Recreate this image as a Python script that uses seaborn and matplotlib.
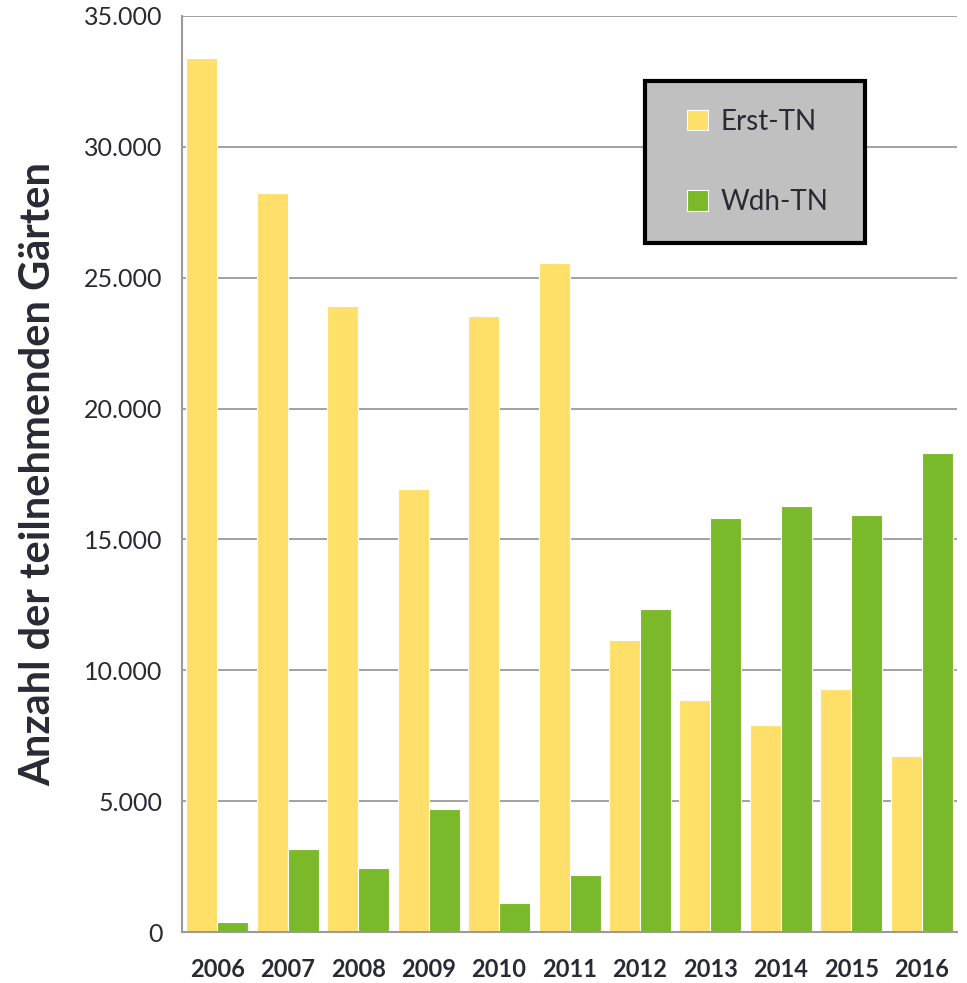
import matplotlib
matplotlib.use("Agg")
import matplotlib.pyplot as plt
import matplotlib.ticker as mticker
from matplotlib.patches import Rectangle
import seaborn as sns
import pandas as pd
import numpy as np

years = ["2006", "2007", "2008", "2009", "2010", "2011",
         "2012", "2013", "2014", "2015", "2016"]
erst_tn = [33400, 28240, 23920, 16930, 23540, 25560,
           11160, 8870, 7910, 9290, 6730]
wdh_tn = [380, 3170, 2450, 4700, 1110, 2180,
          12340, 15820, 16280, 15930, 18300]
series_names = ["Erst-TN", "Wdh-TN"]
colors = ["#FDDF6A", "#7AB929"]
y_label = "Anzahl der teilnehmenden Gärten"

df = pd.DataFrame({
    "Jahr": years * 2,
    "Anzahl": erst_tn + wdh_tn,
    "Serie": [series_names[0]] * len(years) + [series_names[1]] * len(years),
})

sns.set_style("white")
plt.rcParams["font.family"] = ["Lato", "DejaVu Sans"]
text_color = "#2a2a35"

W, H = 967, 983
ax_left, ax_right, ax_top, ax_bottom = 182, 957, 16, 932
fig = plt.figure(figsize=(W / 100, H / 100), dpi=100)
ax = fig.add_axes([ax_left / W, 1 - ax_bottom / H,
                   (ax_right - ax_left) / W, (ax_bottom - ax_top) / H])


def px_to_axes(x, y):
    return ((x - ax_left) / (ax_right - ax_left),
            (ax_bottom - y) / (ax_bottom - ax_top))


sns.barplot(data=df, x="Jahr", y="Anzahl", hue="Serie", palette=colors,
            width=0.88, saturation=1, ax=ax, edgecolor="white", linewidth=0.8,
            legend=True)

ax.set_ylim(0, 35000)
ax.set_xlim(-0.5, len(years) - 0.5)
ax.yaxis.set_major_locator(mticker.MultipleLocator(5000))
ax.yaxis.set_major_formatter(mticker.FuncFormatter(
    lambda v, p: f"{int(v):,}".replace(",", ".")))
ax.grid(axis="y", color="#9a9a9a", linewidth=1.3)
ax.set_axisbelow(True)

for side in ["top", "right"]:
    ax.spines[side].set_visible(False)
for side in ["left", "bottom"]:
    ax.spines[side].set_color("#9a9a9a")
    ax.spines[side].set_linewidth(1.5)

ax.tick_params(axis="y", which="major", length=8, width=1.3, color="#9a9a9a",
               labelsize=18, labelcolor=text_color, pad=6)
ax.set_xticks(np.arange(len(years)))
ax.set_xticklabels(years, fontsize=17, fontweight="bold", color=text_color)
ax.tick_params(axis="x", which="major", length=0, pad=19)
ax.set_xticks(np.arange(-0.5, len(years), 1.0), minor=True)
ax.tick_params(axis="x", which="minor", length=9, width=1.3, color="#9a9a9a")

ax.set_xlabel("")
ax.set_ylabel(y_label, fontsize=30, fontweight="bold", color=text_color, labelpad=19)

# grey legend panel with a heavy black border
x0, y0 = px_to_axes(645, 243)
x1, y1 = px_to_axes(865, 81)
panel = Rectangle((x0, y0), x1 - x0, y1 - y0, transform=ax.transAxes,
                  facecolor="#c0c0c0", edgecolor="black", linewidth=3,
                  zorder=5, clip_on=False)
ax.add_patch(panel)

lx, ly = px_to_axes(687, 162)
leg = ax.legend(loc="center left", bbox_to_anchor=(lx, ly),
                frameon=False, fontsize=20, handlelength=0.75,
                handleheight=0.75, labelspacing=1.95, borderpad=0,
                handletextpad=0.45, borderaxespad=0)
leg.set_zorder(6)
for t in leg.get_texts():
    t.set_color(text_color)

fig.savefig("out.png", dpi=100)
